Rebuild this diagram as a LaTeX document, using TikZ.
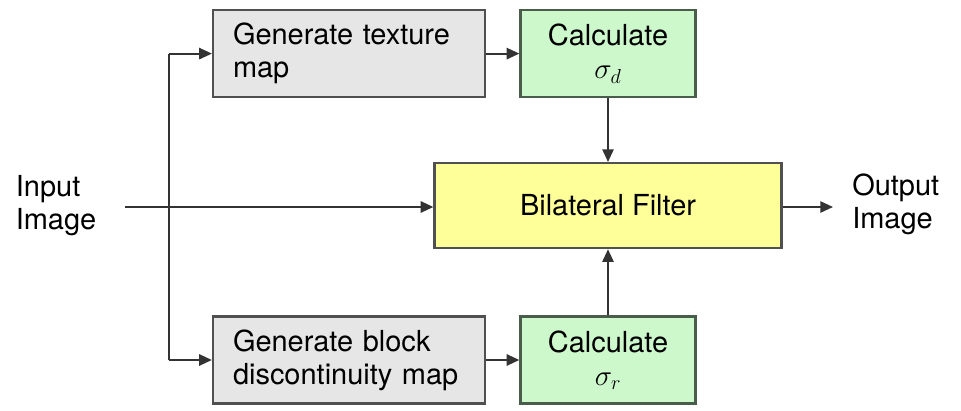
\documentclass[tikz,border=0pt]{standalone}
\usepackage{fontspec}
\setmainfont{TeX Gyre Heros}
\usepackage{xcolor}
\usepackage{tikz}
\usetikzlibrary{arrows.meta, positioning, calc}
\definecolor{mapgray}{HTML}{E6E6E6}
\definecolor{calcgreen}{HTML}{CCF8CC}
\definecolor{filteryellow}{HTML}{FFFF99}
\definecolor{edgegray}{HTML}{505050}
\definecolor{edgegreen}{HTML}{4A5C4A}
\tikzset{
    mapbox/.style={
        rectangle,
        draw=edgegray,
        line width=1.6pt,
        minimum width=6.8cm,
        minimum height=2.175cm,
        text width=5.8cm,
        align=left,
        fill=mapgray,
        font=\fontsize{20.6}{23.5}\selectfont
    },
    calcbox/.style={
        rectangle,
        draw=edgegreen,
        line width=1.6pt,
        minimum width=4.375cm,
        minimum height=2.175cm,
        align=center,
        fill=calcgreen,
        font=\fontsize{20.6}{23.5}\selectfont
    },
    filterbox/.style={
        rectangle,
        draw=edgegray,
        line width=1.6pt,
        minimum width=8.675cm,
        minimum height=2.125cm,
        fill=filteryellow,
        font=\fontsize{20.6}{23.5}\selectfont
    },
    label/.style={
        align=left,
        inner sep=0pt,
        font=\fontsize{20.6}{23.5}\selectfont
    },
    wire/.style={
        draw=black!80,
        line width=1.3pt,
        -{Triangle[length=9pt,width=8pt]}
    }
}

\begin{document}
\begin{tikzpicture}

\useasboundingbox (0,0) rectangle (24.025,-10.25);

% Filter in the middle
\node[filterbox] (filter) at (15.2,-5.14) {Bilateral Filter};

% Upper row
\node[mapbox] (texture) at (8.725,-1.34) {Generate texture\\map};
\node[calcbox] (sigmad) at (15.2,-1.34) {Calculate\\$\sigma_d$};

% Lower row
\node[mapbox] (block) at (8.725,-9.0) {Generate block\\discontinuity map};
\node[calcbox] (sigmar) at (15.2,-9.0) {Calculate\\$\sigma_r$};

% Input and output
\node[label] (input) at (1.4,-5.15) {Input\\Image};
\node[label, anchor=west] (output) at (21.3,-5.1) {Output\\Image};

\coordinate (start) at (3.125,-5.175);
\coordinate (split) at (4.225,-5.175);
\coordinate (outend) at (20.825,-5.175);

\draw[wire] (start) -- (start -| filter.west);
\draw[wire] (split |- texture) -- (texture.west);
\draw[wire] (split |- block) -- (block.west);
\draw[line width=1.3pt, draw=black!80] (split |- texture) -- (split |- block);

\draw[wire] (texture) -- (sigmad);
\draw[wire] (block) -- (sigmar);
\draw[wire] (sigmad) -- (filter);
\draw[wire] (sigmar) -- (filter);
\draw[wire] (filter.east |- outend) -- (outend);

\end{tikzpicture}
\end{document}
